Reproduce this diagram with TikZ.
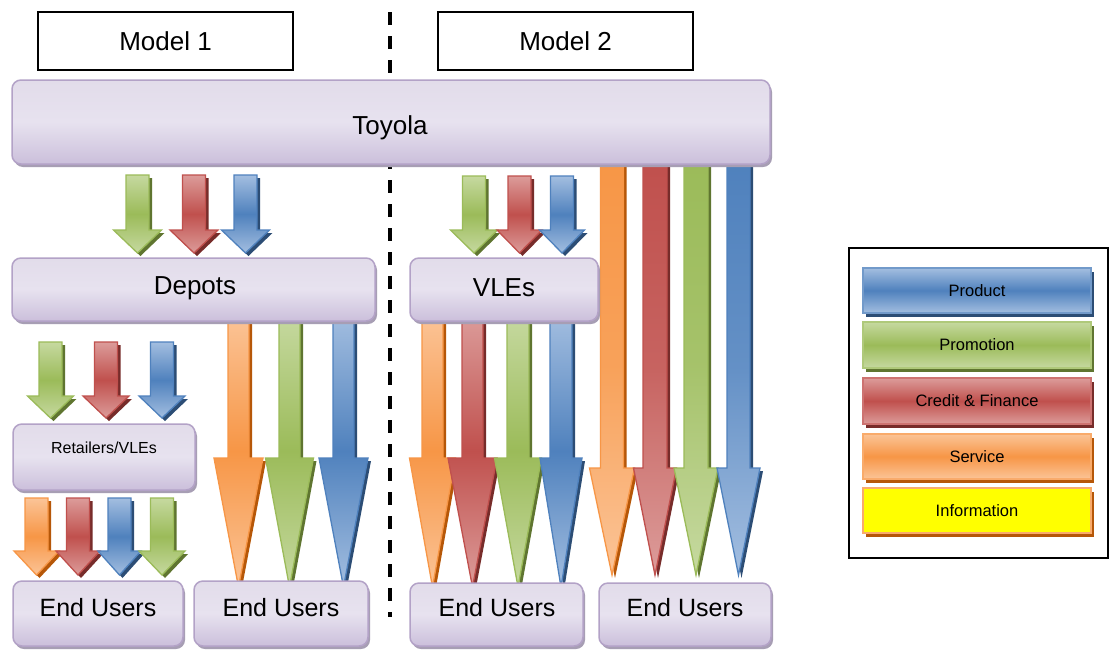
\documentclass[tikz,border=0pt]{standalone}
\usepackage{fontspec}
\setmainfont{Liberation Sans}
\definecolor{blueB}{HTML}{4F81BD}\definecolor{blueL}{HTML}{A3BEE0}\definecolor{blueS}{HTML}{2C4D75}
\definecolor{greenB}{HTML}{9BBB59}\definecolor{greenL}{HTML}{C6D9A0}\definecolor{greenS}{HTML}{5F7530}
\definecolor{redB}{HTML}{C0504D}\definecolor{redL}{HTML}{DC9C9A}\definecolor{redS}{HTML}{772C2A}
\definecolor{orangeB}{HTML}{F79646}\definecolor{orangeL}{HTML}{FBC497}\definecolor{orangeS}{HTML}{B65708}
\definecolor{yellowB}{HTML}{FFFF00}
\definecolor{pTop}{HTML}{E2DCEA}\definecolor{pMid}{HTML}{E7E2EF}\definecolor{pBot}{HTML}{CBBFDB}
\definecolor{pBorder}{HTML}{B3A2C7}\definecolor{pShadow}{HTML}{A79EB4}
% block arrow: cx, top, headstart, tip, half shaft, half head, colour prefix, shading keys
\newcommand{\blockarr}[8]{%
  \fill[#7S] ({#1-#5+3},{#2+3}) -- ({#1+#5+3},{#2+3}) -- ({#1+#5+3},{#3+3}) -- ({#1+#6+3},{#3+3})
     -- ({#1+3},{#4+3}) -- ({#1-#6+3},{#3+3}) -- ({#1-#5+3},{#3+3}) -- cycle;
  \shadedraw[draw=#7B, line width=1.3pt, line join=miter, #8] ({#1-#5},#2) -- ({#1+#5},#2) -- ({#1+#5},#3) -- ({#1+#6},#3)
     -- (#1,#4) -- ({#1-#6},#3) -- ({#1-#5},#3) -- cycle;}
\tikzset{
  glossy/.style={top color=#1L, bottom color=#1L, middle color=#1B},
  fadedown/.style={top color=#1B, bottom color=#1L, middle color=#1B!75!#1L},
  pbox/.style={draw=pBorder, line width=1.5pt, rounded corners=9pt, top color=pTop, bottom color=pBot, middle color=pMid},
  pshadow/.style={fill=pShadow, rounded corners=9pt},
  modelbox/.style={draw=black, line width=1.2pt, fill=white},
  big/.style={font=\fontsize{26}{30}\selectfont, text=black},
  mid/.style={font=\fontsize{25}{30}\selectfont, text=black},
  small/.style={font=\fontsize{16}{19}\selectfont, text=black},
  legtxt/.style={font=\fontsize{16.5}{19}\selectfont, text=black},
}
\newcommand{\pboxdraw}[5]{% name, x1, y1, x2, y2
  \fill[pshadow] ({#2+2},{#3+3}) rectangle ({#4+2},{#5+3});
  \shadedraw[pbox] (#2,#3) rectangle (#4,#5);
  \coordinate (#1) at ({(#2+#4)/2},{(#3+#5)/2});}
\newcommand{\legitem}[5]{% name, y1, y2, colour prefix, fill keys
  \fill[#4S] (866,{#2+4}) rectangle (1094,{#3+4});
  \shadedraw[draw=#4B!80!white, line width=2pt, #5] (863,#2) rectangle (1091,#3);
  \coordinate (#1) at (977,{(#2+#3)/2});}
\begin{document}
\begin{tikzpicture}[x=1pt,y=-1pt]
\useasboundingbox (0,0) rectangle (1110,651);
\fill[white] (0,0) rectangle (1110,651);
% divider
\draw[line width=4pt, dash pattern=on 13pt off 11pt] (390,12) -- (390,617);
% model labels
\node[modelbox, big, minimum width=255pt, minimum height=58pt, inner sep=0pt] (m1) at (165.5,41) {Model 1};
\node[modelbox, big, minimum width=255pt, minimum height=58pt, inner sep=0pt] (m2) at (565.5,41) {Model 2};
% long arrows from Toyola (drawn before Toyola box)
\blockarr{612}{160}{468}{575}{11.5}{22.5}{orange}{fadedown=orange}
\blockarr{655}{160}{468}{575}{12}{21.5}{red}{fadedown=red}
\blockarr{696}{160}{468}{575}{12}{22}{green}{fadedown=green}
\blockarr{738.5}{160}{468}{575}{11.5}{21.5}{blue}{fadedown=blue}
% long arrows from Depots
\blockarr{238.5}{315}{458}{587}{10.5}{24.5}{orange}{glossy=orange}
\blockarr{289.5}{315}{458}{587}{10.5}{24}{green}{glossy=green}
\blockarr{343.5}{315}{458}{587}{10.5}{24.5}{blue}{glossy=blue}
% long arrows from VLEs
\blockarr{432.5}{315}{458}{587}{10.5}{23}{orange}{glossy=orange}
\blockarr{472.5}{315}{458}{587}{10.5}{24.5}{red}{glossy=red}
\blockarr{518}{315}{458}{587}{11}{23.5}{green}{glossy=green}
\blockarr{561}{315}{458}{587}{11}{21}{blue}{glossy=blue}
% Toyola
\pboxdraw{toyola}{12}{80}{770}{164}
\node[big] (toyolaT) at (390,128) {Toyola};
% small arrows Toyola -> Depots
\blockarr{137.5}{175}{230}{253}{11.5}{24}{green}{glossy=green}
\blockarr{194}{175}{230}{253}{11.5}{24}{red}{glossy=red}
\blockarr{245.5}{175}{230}{253}{11.5}{24}{blue}{glossy=blue}
% small arrows Toyola -> VLEs
\blockarr{474}{176}{230}{253}{11.5}{23.5}{green}{glossy=green}
\blockarr{519.5}{176}{230}{253}{11.5}{22.5}{red}{glossy=red}
\blockarr{562}{176}{230}{253}{11.5}{22.5}{blue}{glossy=blue}
% Depots and VLEs
\pboxdraw{depots}{12}{258}{375}{321}
\node[big] (depotsT) at (195,288) {Depots};
\pboxdraw{vles}{410}{258}{598}{321}
\node[big] (vlesT) at (504,288) {VLEs};
% Depots -> Retailers
\blockarr{50.5}{342}{396}{418}{11.5}{23}{green}{glossy=green}
\blockarr{106}{342}{396}{418}{11.5}{23}{red}{glossy=red}
\blockarr{162}{342}{396}{418}{11.5}{23}{blue}{glossy=blue}
% Retailers
\pboxdraw{ret}{13}{424}{195}{490}
\node[small] (retT) at (104,448) {Retailers/VLEs};
% Retailers -> End users
\blockarr{36.5}{498}{551}{575}{11.5}{22.5}{orange}{glossy=orange}
\blockarr{78}{498}{551}{575}{11.5}{22}{red}{glossy=red}
\blockarr{119.5}{498}{551}{575}{11.5}{21.5}{blue}{glossy=blue}
\blockarr{162}{498}{551}{575}{11.5}{23}{green}{glossy=green}
% End users
\pboxdraw{eu1}{13}{581}{183}{646}
\node[mid] (eu1T) at (98,608) {End Users};
\pboxdraw{eu2}{194}{581}{368}{646}
\node[mid] (eu2T) at (281,608) {End Users};
\pboxdraw{eu3}{410}{583}{583}{646}
\node[mid] (eu3T) at (497,608) {End Users};
\pboxdraw{eu4}{599}{583}{771}{646}
\node[mid] (eu4T) at (685,608) {End Users};
% legend
\draw[line width=1.5pt] (849,248) rectangle (1108,558);
\legitem{lp}{268}{313}{blue}{glossy=blue}
\node[legtxt] (lpT) at (lp) {Product};
\legitem{lpr}{322}{368}{green}{glossy=green}
\node[legtxt] (lprT) at (lpr) {Promotion};
\legitem{lc}{378}{424}{red}{glossy=red}
\node[legtxt] (lcT) at (lc) {Credit \& Finance};
\legitem{ls}{434}{479}{orange}{glossy=orange}
\node[legtxt] (lsT) at (ls) {Service};
\legitem{li}{488}{533}{orange}{top color=yellowB, bottom color=yellowB}
\node[legtxt] (liT) at (li) {Information};
\end{tikzpicture}
\end{document}
